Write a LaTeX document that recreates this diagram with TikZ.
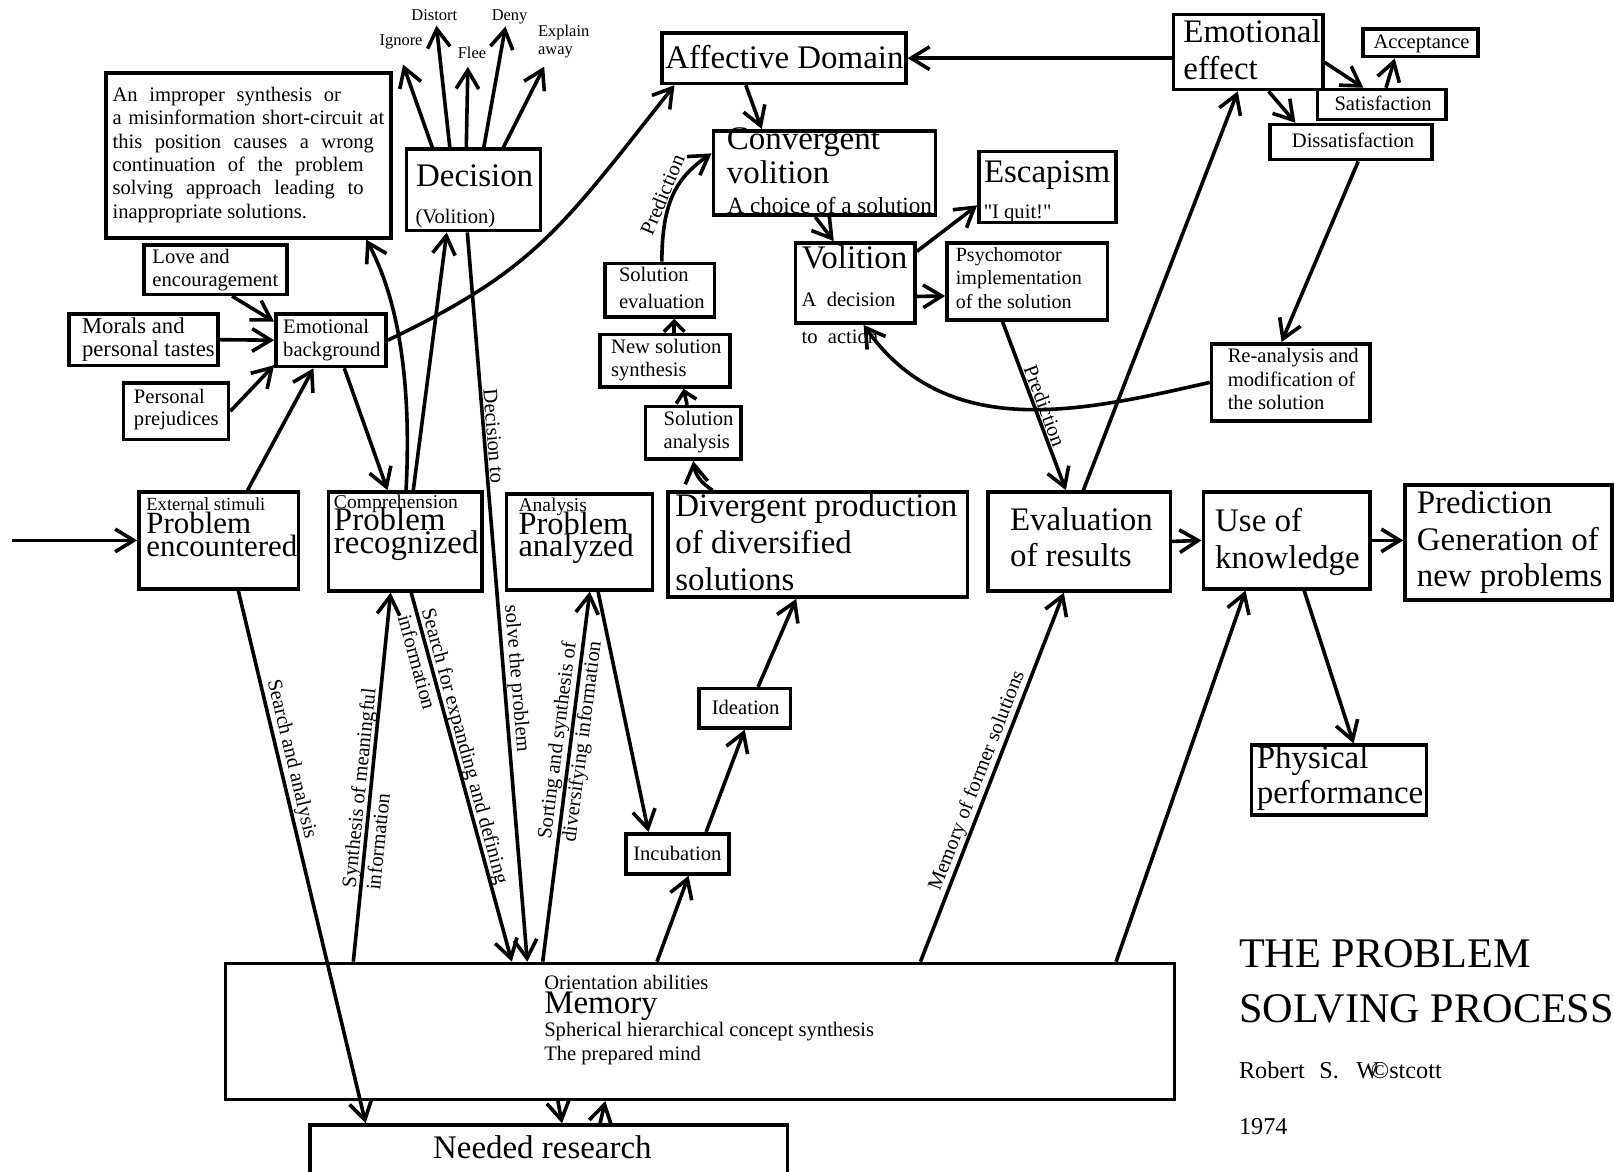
\documentclass[tikz,border=0pt]{standalone}
\usepackage{fontspec}
\setmainfont{Liberation Serif}
\newfontfamily\gerade{Liberation Serif}[Ligatures=TeXOff]
\usepackage{tikz}
\usetikzlibrary{arrows.meta, fit}
\newcommand{\gross}{\fontsize{32}{35.6}\selectfont}
\newcommand{\mittel}{\fontsize{20}{22.7}\selectfont}
\newcommand{\klein}{\fontsize{16}{17.5}\selectfont}
\lineskiplimit=-100pt

\begin{document}
\begin{tikzpicture}[x=1pt, y=-1pt, line width=3.5pt,
    box/.style={draw, inner sep=0pt},
    txt/.style={inner sep=0pt, anchor=base west, align=left, font=\mittel},
    lbl/.style={inner sep=1pt, sloped, align=left, font=\mittel},
    pfeil/.style={-{Straight Barb[length=18pt, width=22pt]}},
    kurz/.style={-{Straight Barb[length=10pt, width=20pt]}}]
    \useasboundingbox (0,0) rectangle (1568,1138);

    % Kästen.
    \foreach \n/\xa/\ya/\xb/\yb in {imp/103/71/380/231, dec/395/145/525/224,
        love/140/238/279/286, moral/67/305/212/355, emobg/268/305/375/356,
        prej/120/372/222/427, aff/643/32/880/81, conv/693/127/909/209,
        esc/951/147/1084/216, vol/773/236/889/314, psy/920/236/1076/311,
        soleval/588/256/694/308, newsyn/583/325/709/376, solana/627/395/720/446,
        emoeff/1140/14/1285/87, acc/1324/28/1436/55, sat/1280/87/1405/116,
        dissat/1234/121/1391/155, rean/1177/334/1331/409,
        penc/135/478/290/572, prec/319/478/468/574, pana/492/480/634/573,
        div/649/478/940/580, evalr/960/478/1137/574, use/1169/478/1331/572,
        pred/1365/471/1566/583, phys/1216/724/1386/792, idea/679/669/768/707,
        incu/608/810/708/849, mem/219/936/1141/1068, need/301/1093/765/1170}
    {
        \node[box, fit={(\xa,\ya) (\xb,\yb)}] (\n) {};
    }

    % Beschriftung (Grundlinie der letzten Zeile).
    \node[txt, font=\klein] (ignore) at (367,44) {Ignore};
    \node[txt, font=\klein] (distort) at (398,19.5) {Distort};
    \node[txt, font=\klein] (flee) at (443,57) {Flee};
    \node[txt, font=\klein] (deny) at (476,19.5) {Deny};
    \node[txt, font=\klein] (explain) at (521,53) {Explain\\away};
    \node[txt] (impt) at (107.6,212.1) {\makebox[222pt][s]{An improper synthesis or}\\
        \makebox[264pt][s]{a misinformation short-circuit at}\\
        \makebox[254pt][s]{this position causes a wrong}\\
        \makebox[244pt][s]{continuation of the problem}\\
        \makebox[244pt][s]{solving approach leading to}\\
        inappropriate solutions.};
    \node[txt, font=\gross] (dect) at (402.5,181.3) {Decision};
    \node[txt] (volit) at (402,217) {(Volition)};
    \node[txt] (lovet) at (146.4,278.5) {Love and\\encouragement};
    \node[txt, font=\fontsize{22}{22.7}\selectfont] (moralt) at (78,346.5) {Morals and\\personal tastes};
    \node[txt] (emobgt) at (273.4,346.5) {Emotional\\background};
    \node[txt, font=\fontsize{20}{21}\selectfont] (prejt) at (128.4,412.9) {Personal\\prejudices};
    \node[txt, font=\gross] (afft) at (644.7,66.4) {Affective Domain};
    \node[txt, font=\fontsize{32}{32.3}\selectfont] (convt) at (704.4,178) {Convergent\\volition};
    \node[txt, font=\fontsize{22.5}{25}\selectfont] (choice) at (705,207.3) {A choice of a solution};
    \node[txt, font=\gross] (esct) at (954.2,177.5) {Escapism};
    \node[txt, font=\gerade\mittel] (quit) at (954,212) {"I quit!"};
    \node[txt, font=\gross] (volt) at (777.2,260.7) {Volition};
    \node[txt] (decis) at (777,297.3) {A~~decision};
    \node[txt] (action) at (777,333.5) {to~~action};
    \node[txt, font=\fontsize{19.5}{22.7}\selectfont] (psyt) at (926.8,299.5) {Psychomotor\\implementation\\of the solution};
    \node[txt, font=\fontsize{20}{26}\selectfont] (solevalt) at (599.6,299.5) {Solution\\evaluation};
    \node[txt, font=\fontsize{20}{22}\selectfont] (newsynt) at (592,365.9) {New solution\\synthesis};
    \node[txt] (solanat) at (643,435.6) {Solution\\analysis};
    \node[txt, font=\gross] (emoefft) at (1148,77.1) {Emotional\\effect};
    \node[txt] (acct) at (1332.6,47) {Acceptance};
    \node[txt] (satt) at (1294.7,106.9) {Satisfaction};
    \node[txt] (dissatt) at (1253.3,143.1) {Dissatisfaction};
    \node[txt] (reant) at (1191,397.7) {Re-analysis and\\modification of\\the solution};
    \node[txt, font=\fontsize{30}{22.6}\selectfont] (penct) at (140.5,540.8) {{\fontsize{18}{20}\selectfont External stimuli}\\Problem\\encountered};
    \node[txt, font=\fontsize{32}{22}\selectfont] (prect) at (322.7,537.6) {{\fontsize{19}{20}\selectfont Comprehension}\\Problem\\recognized};
    \node[txt, font=\fontsize{31.5}{22}\selectfont] (panat) at (502,541) {{\fontsize{19}{20}\selectfont Analysis}\\Problem\\analyzed};
    \node[txt, font=\gross] (divt) at (654.4,573.2) {Divergent production\\of diversified\\solutions};
    \node[txt, font=\gross] (evalrt) at (979.5,550.5) {Evaluation\\of results};
    \node[txt, font=\gross] (uset) at (1178.8,552.1) {Use of\\knowledge};
    \node[txt, font=\gross] (predt) at (1374.7,570) {Prediction\\Generation of\\new problems};
    \node[txt, font=\fontsize{32}{34}\selectfont] (physt) at (1219.3,780.4) {Physical\\performance};
    \node[txt] (ideat) at (689.8,694.6) {Ideation};
    \node[txt] (incut) at (613.5,835.5) {Incubation};
    \node[txt] (memt) at (527,1029.8) {Orientation abilities\\{\gross Memory}\\Spherical hierarchical concept synthesis\\The prepared mind};
    \node[txt, font=\gross] (needt) at (419,1125.3) {Needed research};
    \node[txt, font=\fontsize{41}{53.8}\selectfont] (titel) at (1202,993.5) {THE PROBLEM\\SOLVING PROCESS};
    \node[txt, font=\fontsize{23.5}{26}\selectfont] (autor) at (1202,1047.6) {Robert\hspace{14pt}S.\hspace{17pt}W\kern-8pt©stcott};
    \node[txt, font=\fontsize{23.5}{26}\selectfont] (jahr) at (1202,1102.6) {1974};

    % Pfeile.
    \coordinate (ein) at (12,525);
    \draw[pfeil] (ein) -- (penc.west);
    \draw[pfeil] ([xshift=28pt]penc.north) -- ([xshift=-17pt]emobg.south);
    \draw[pfeil] ([xshift=13pt]emobg.south) -- ([xshift=-17pt]prec.north);
    \draw[pfeil] ([xshift=16pt]love.south) -- ([yshift=18pt]emobg.west);
    \draw[pfeil] (moral.east) -- (emobg.west);
    \draw[pfeil] (prej.east) -- ([yshift=3pt]emobg.south west);
    \draw[pfeil] (emobg.east) .. controls (520,262) and (545,222) .. ([xshift=14pt]aff.south west);
    \draw[pfeil] ([xshift=1pt]prec.north) .. controls (399,390) and (392,300) .. ([xshift=-26pt]imp.south east);
    \draw[pfeil] ([xshift=8pt]prec.north) -- ([xshift=-26pt]dec.south);
    \foreach \ziel/\dx/\ex/\ey in {ignore/-40/2/-13.5, distort/-23/2/-3.5, flee/-7/-4/-6,
        deny/10/-4/-1, explain/29/-19/-6.5}
    {
        \draw[pfeil] ([xshift=\dx]dec.north) -- ([xshift=\ex, yshift=\ey]\ziel.south);
    }
    \draw[pfeil] ([xshift=-6pt]dec.south) -- ([xshift=295pt]mem.north west)
        node[lbl, pos=.28, above] (decto) {Decision to}
        node[lbl, pos=.613, above] (solve) {solve the problem};
    \draw[pfeil] ([xshift=19pt]penc.south) -- ([xshift=56pt]need.north west)
        node[lbl, pos=.322, above] (search) {Search and analysis};
    \draw[pfeil] ([xshift=126pt]mem.north west) -- ([xshift=-14pt]prec.south)
        node[lbl, pos=.19, anchor=west, font=\fontsize{20}{24}\selectfont] (synth) {Synthesis of meaningful\\information};
    \draw[pfeil] ([xshift=6pt]prec.south) -- ([xshift=280pt]mem.north west)
        node[lbl, pos=.045, anchor=west, font=\fontsize{20}{24}\selectfont] (expand) {Search for expanding and defining\\information};
    \draw[pfeil] ([xshift=310pt]mem.north west) -- ([xshift=10pt]pana.south)
        node[lbl, pos=.32, anchor=west, font=\fontsize{20}{24}\selectfont] (sort) {Sorting and synthesis of\\diversifying information};
    \draw[pfeil] ([xshift=18pt]pana.south) -- ([xshift=-28pt]incu.north);
    \draw[pfeil] ([xshift=421pt]mem.north west) -- ([xshift=11pt]incu.south);
    \draw[pfeil] ([xshift=28pt]incu.north) -- (idea.south);
    \draw[pfeil] ([xshift=13pt]idea.north) -- ([xshift=-21pt]div.south);
    \draw[pfeil] ([xshift=45pt]div.north west) to[bend left=25] (solana.south);
    \draw[kurz] ([xshift=-6pt]solana.north) -- ([xshift=18pt]newsyn.south);
    \draw[kurz] ([xshift=9pt]newsyn.north) -- ([xshift=14pt]soleval.south);
    \draw[pfeil] ([xshift=2pt]soleval.north) .. controls (643,195) and (658,172) .. ([yshift=19pt]conv.west)
        node[lbl, pos=.45, above] (praed) {Prediction};
    \draw[pfeil] ([xshift=-37pt]aff.south) -- ([xshift=-61pt]conv.north);
    \draw[pfeil] ([xshift=-9pt]conv.south) -- ([xshift=-21pt]vol.north);
    \draw[pfeil] ([yshift=-10pt]vol.north east) -- ([yshift=-18pt]esc.west);
    \draw[pfeil] ([yshift=-13pt]vol.east) -- ([yshift=-14pt]psy.west);
    \draw[pfeil] (rean.west) .. controls (1050,400) and (920,430) .. ([xshift=8pt]vol.south);
    \draw[pfeil] ([xshift=-24pt]psy.south) -- ([xshift=-13pt]evalr.north)
        node[lbl, pos=.52, above] (praed2) {Prediction};
    \draw[pfeil] ([xshift=4pt]evalr.north) -- ([xshift=-10pt]emoeff.south);
    \draw[pfeil] (emoeff.west |- aff.east) -- (aff.east);
    \draw[pfeil] ([yshift=-10pt]emoeff.east) -- ([xshift=-18pt]sat.north);
    \draw[pfeil] ([xshift=4pt]sat.north) -- ([xshift=-25pt]acc.south);
    \draw[pfeil] ([xshift=20pt]emoeff.south) -- ([xshift=-54pt]dissat.north);
    \draw[pfeil] ([xshift=7pt]dissat.south) -- ([xshift=-9pt]rean.north);
    \draw[pfeil] (evalr.east) -- (use.west);
    \draw[pfeil] (use.east) -- (pred.west |- use.east);
    \draw[pfeil] ([xshift=17pt]use.south) -- ([xshift=14pt]phys.north);
    \draw[pfeil] ([xshift=677pt]mem.north west) -- ([xshift=-15pt]evalr.south)
        node[lbl, pos=.478, above] (formsol) {Memory of former solutions};
    \draw[pfeil] ([xshift=867pt]mem.north west) -- ([xshift=-40pt]use.south);
    \draw[pfeil] ([xshift=-138pt]mem.south) -- ([xshift=13pt]need.north);
    \draw[pfeil] ([xshift=50pt]need.north) -- ([xshift=-92pt]mem.south);
\end{tikzpicture}
\end{document}
